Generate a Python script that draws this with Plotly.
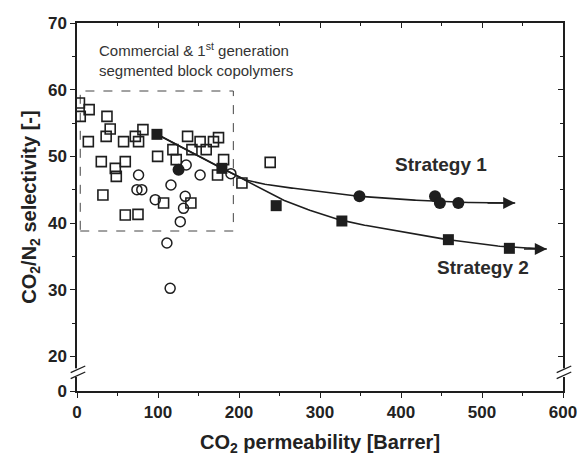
import numpy as np
import plotly.graph_objects as go

# ---- data (CO2 permeability [Barrer], CO2/N2 selectivity) ----
commercial_sq_x = [3, 4, 15, 37, 41, 36, 14, 57.5, 72, 76, 81.4, 136.5, 118.4, 99.5, 122.5,
                   141.9, 152, 159.5, 168.5, 174.7, 181, 173.5, 30, 47.3, 59.6, 48.5, 32,
                   59.6, 75.3, 106.9, 140.6, 203.6, 238.5]
commercial_sq_y = [58.0, 56.0, 57.0, 56.0, 54.1, 53.0, 52.2, 52.2, 53.0, 52.2, 54.0, 53.0, 51.0,
                   50.0, 49.5, 51.0, 52.2, 51.0, 52.2, 52.8, 49.5, 47.2, 49.2, 48.2, 49.2, 47.0,
                   44.2, 41.2, 41.3, 43.0, 43.0, 46.0, 49.1]

first_gen_x = [76, 74, 80, 96.6, 116, 133.6, 131.5, 127.5, 111, 115, 134.8, 152, 190]
first_gen_y = [47.2, 45.0, 45.0, 43.5, 45.7, 44.0, 42.2, 40.2, 37.0, 30.2, 48.7, 47.2, 47.4]

strategy1_x = [125.4, 348.7, 442, 448, 470.8]
strategy1_y = [48.0, 44.0, 44.0, 43.0, 43.0]

strategy2_x = [98.7, 178.9, 245.9, 327, 458.5, 533.8]
strategy2_y = [53.3, 48.2, 42.6, 40.3, 37.5, 36.2]

# guide curves drawn through each strategy
trend1_x = [98.7, 140, 178.9, 210, 280, 348.7, 420, 470.8, 541]
trend1_y = [53.3, 50.6, 48.2, 46.4, 45.0, 44.0, 43.4, 43.1, 43.0]
trend2_x = [98.7, 178.9, 210, 250, 300, 327, 400, 458.5, 533.8, 580]
trend2_y = [53.3, 48.2, 46.2, 43.7, 41.4, 40.4, 38.7, 37.5, 36.4, 36.1]

# region enclosing the commercial & 1st generation materials
box_x = (4, 193)
box_y = (38.8, 59.8)

# broken y axis: the "0" tick sits just below the 20-70 segment
y_zero_pos = 14.8
y_ticks = [20, 30, 40, 50, 60, 70]
x_ticks = [0, 100, 200, 300, 400, 500, 600]

ink = "#1e1e1e"
font = "Arial, Liberation Sans, Helvetica, sans-serif"


def smooth(xs, ys, n=200):
    xs = np.asarray(xs, float)
    ys = np.asarray(ys, float)
    t = np.linspace(xs[0], xs[-1], n)
    # monotone piecewise cubic (Fritsch-Carlson) for a smooth guide curve
    h = np.diff(xs)
    d = np.diff(ys) / h
    m = np.zeros_like(ys)
    m[0], m[-1] = d[0], d[-1]
    for i in range(1, len(xs) - 1):
        if d[i - 1] * d[i] > 0:
            w1 = 2 * h[i] + h[i - 1]
            w2 = h[i] + 2 * h[i - 1]
            m[i] = (w1 + w2) / (w1 / d[i - 1] + w2 / d[i])
    out = np.empty_like(t)
    for j, tv in enumerate(t):
        k = min(np.searchsorted(xs, tv, side="right") - 1, len(xs) - 2)
        s = (tv - xs[k]) / h[k]
        h00 = 2 * s**3 - 3 * s**2 + 1
        h10 = s**3 - 2 * s**2 + s
        h01 = -2 * s**3 + 3 * s**2
        h11 = s**3 - s**2
        out[j] = h00 * ys[k] + h10 * h[k] * m[k] + h01 * ys[k + 1] + h11 * h[k] * m[k + 1]
    return t, out


fig = go.Figure()

for tx, ty in [(trend1_x, trend1_y), (trend2_x, trend2_y)]:
    sx, sy = smooth(tx, ty)
    fig.add_trace(go.Scatter(x=sx, y=sy, mode="lines",
                             line=dict(color=ink, width=1.6), hoverinfo="skip"))

fig.add_trace(go.Scatter(x=commercial_sq_x, y=commercial_sq_y, mode="markers",
                         marker=dict(symbol="square-open", size=10, color=ink,
                                     line=dict(width=1.6, color=ink))))
fig.add_trace(go.Scatter(x=first_gen_x, y=first_gen_y, mode="markers",
                         marker=dict(symbol="circle-open", size=10, color=ink,
                                     line=dict(width=1.5, color=ink))))
fig.add_trace(go.Scatter(x=strategy1_x, y=strategy1_y, mode="markers",
                         marker=dict(symbol="circle", size=12, color=ink)))
fig.add_trace(go.Scatter(x=strategy2_x, y=strategy2_y, mode="markers",
                         marker=dict(symbol="square", size=11, color=ink)))

# empty trace to carry the mirrored top/right tick axes
fig.add_trace(go.Scatter(x=[None], y=[None], xaxis="x2", yaxis="y2", showlegend=False))

shapes = [
    dict(type="rect", xref="x", yref="y", x0=box_x[0], x1=box_x[1], y0=box_y[0], y1=box_y[1],
         line=dict(color="#444", width=1, dash="dash"), layer="below"),
]
# axis break marks on left and right y axes
for px in (0.0, 1.0):
    shapes.append(dict(type="line", xref="paper", yref="y", x0=px, x1=px, y0=16.9, y1=18.2,
                       line=dict(color="white", width=4), layer="above"))
    for dy in (0.0, -0.9):
        shapes.append(dict(type="line", xref="paper", yref="y",
                           x0=px - 0.013, x1=px + 0.017, y0=17.55 + dy, y1=18.55 + dy,
                           line=dict(color=ink, width=1.3), layer="above"))

annotations = [
    dict(x=25, y=64.6, xref="x", yref="y", xanchor="left", yanchor="middle", align="left",
         text="Commercial &amp; 1<sup>st</sup> generation<br>segmented block copolymers",
         showarrow=False, font=dict(family=font, size=15, color="#333")),
    dict(x=449, y=48.8, xref="x", yref="y", text="<b>Strategy 1</b>", showarrow=False,
         font=dict(family=font, size=19, color="#2a2a2a")),
    dict(x=501, y=33.3, xref="x", yref="y", text="<b>Strategy 2</b>", showarrow=False,
         font=dict(family=font, size=19, color="#2a2a2a")),
]
for tip_x, tip_y, tail_x in [(trend1_x[-1], trend1_y[-1], 505), (trend2_x[-1], trend2_y[-1], 550)]:
    annotations.append(dict(x=tip_x, y=tip_y, ax=tail_x, ay=tip_y, xref="x", yref="y",
                            axref="x", ayref="y", text="", showarrow=True, arrowhead=2,
                            arrowsize=1.6, arrowwidth=1.5, arrowcolor=ink, standoff=0))

tickfont = dict(family=font, size=17, color="#222")
y_range = [y_zero_pos, 70]
x_range = [0, 600]

fig.update_layout(
    width=577, height=457,
    margin=dict(l=77, r=14, t=23, b=66, autoexpand=False),
    paper_bgcolor="white", plot_bgcolor="white",
    showlegend=False,
    shapes=shapes,
    annotations=annotations,
    xaxis=dict(range=x_range, tickvals=x_ticks, ticktext=[f"<b>{v}</b>" for v in x_ticks],
               ticks="outside", ticklen=5, tickwidth=1.3, tickcolor=ink, automargin=False,
               ticklabeloverflow="allow",
               minor=dict(tickvals=[50, 150, 250, 350, 450, 550], ticks="outside", ticklen=3,
                          tickcolor=ink, tickwidth=1.2),
               showline=True, linecolor=ink, linewidth=1.5, mirror=True,
               showgrid=False, zeroline=False, tickfont=tickfont,
               title=dict(text="<b>CO<sub>2</sub> permeability [Barrer]</b>",
                          font=dict(family=font, size=20, color="#222"), standoff=14)),
    yaxis=dict(range=y_range, tickvals=[y_zero_pos] + y_ticks,
               ticktext=["<b>0</b>"] + [f"<b>{v}</b>" for v in y_ticks],
               ticks="outside", ticklen=5, tickwidth=1.3, tickcolor=ink, automargin=False,
               ticklabeloverflow="allow",
               minor=dict(tickvals=[25, 35, 45, 55, 65], ticks="outside", ticklen=3,
                          tickcolor=ink, tickwidth=1.2),
               showline=True, linecolor=ink, linewidth=1.5, mirror=True,
               showgrid=False, zeroline=False, tickfont=tickfont,
               title=dict(text="<b>CO<sub>2</sub>/N<sub>2</sub> selectivity [-]</b>",
                          font=dict(family=font, size=20, color="#222"), standoff=6)),
    xaxis2=dict(range=x_range, overlaying="x", side="top", tickvals=x_ticks, showticklabels=False,
                ticks="inside", ticklen=5, tickwidth=1.3, tickcolor=ink, automargin=False,
                minor=dict(tickvals=[50, 150, 250, 350, 450, 550], ticks="inside", ticklen=3,
                           tickcolor=ink, tickwidth=1.2),
                showgrid=False, zeroline=False, showline=False),
    yaxis2=dict(range=y_range, overlaying="y", side="right", tickvals=y_ticks, showticklabels=False,
                ticks="inside", ticklen=5, tickwidth=1.3, tickcolor=ink, automargin=False,
                minor=dict(tickvals=[25, 35, 45, 55, 65], ticks="inside", ticklen=3,
                           tickcolor=ink, tickwidth=1.2),
                showgrid=False, zeroline=False, showline=False),
)

fig.write_html("out.html")
